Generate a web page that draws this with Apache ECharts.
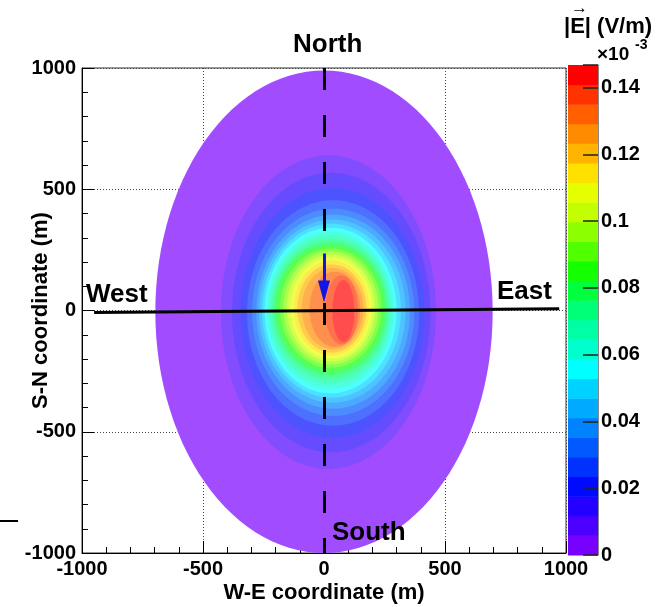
<!DOCTYPE html>
<html>
<head>
<meta charset="utf-8">
<script src="https://cdn.jsdelivr.net/npm/echarts@6/dist/echarts.min.js"></script>
<style>
  html, body { margin: 0; padding: 0; background: #fff; }
  #main { width: 662px; height: 607px; }
</style>
</head>
<body>
<div id="main"></div>
<script>
// colour scale of |E| (x 1e-3 V/m), 25 bands from 0 to zMax
var zMax = 0.1468;
var bandCount = 25;
var paletteTicks = [0, 0.02, 0.04, 0.06, 0.08, 0.1, 0.12, 0.14];
var bandColors = ['#7800ff', '#4b00ff', '#2300ff', '#000aff', '#0032ff', '#005aff', '#0082ff', '#00aaff',
  '#00d2ff', '#00ffff', '#00ffcd', '#00ffa5', '#00ff78', '#00ff3c', '#14ff00', '#50ff00', '#8cff00',
  '#c3ff00', '#e6ff00', '#ffe100', '#ffb400', '#ff8c00', '#ff5f00', '#ff3300', '#ff0000'];

// contour boundaries (m), one entry per level, outermost first
var contourLevel  = [0, 1, 2, 3, 4, 5, 6, 7, 8, 9, 10, 11, 12, 13, 14, 15, 16, 17, 18, 19, 20, 21, 22, 23, 24];
var contourLeft   = [-697, -426, -380, -345, -318, -297, -280, -268, -256, -245, -235, -225, -215, -205, -195, -181, -167, -153, -139, -124, -110, -92, -60, 5, 35];
var contourRight  = [697, 463, 440, 415, 393, 373, 355, 337, 318, 300, 288, 277, 268, 259, 250, 237, 224, 211, 199, 187, 175, 163, 150, 140, 125];
var contourTop    = [990, 640, 568, 505, 455, 420, 395, 375, 358, 342, 326, 310, 295, 281, 268, 256, 244, 231, 218, 206, 190, 175, 160, 145, 125];
var contourBottom = [-1000, -653, -585, -525, -475, -435, -405, -380, -360, -342, -322, -302, -284, -266, -250, -236, -223, -210, -198, -186, -173, -160, -150, -140, -130];

// reference lines
var westEast = [[-950, -8], [972, 7]];
var southNorth = [[0, 1000], [0, -1000]];
var arrowShaft = [[0, 235], [0, 70]];
var arrowHead = [[0, 78]];

var FONT = "'Liberation Sans', Arial, sans-serif";

function lighten(hex, a) {
  var n = parseInt(hex.slice(1), 16);
  var r = (n >> 16) & 255, g = (n >> 8) & 255, b = n & 255;
  function m(c) { return Math.round(c * a + 255 * (1 - a)); }
  return 'rgb(' + m(r) + ',' + m(g) + ',' + m(b) + ')';
}
var plotColors = bandColors.map(function (c) { return lighten(c, 0.7); });

var contourData = contourLevel.map(function (k, i) {
  return [k, contourLeft[i], contourRight[i], contourTop[i], contourBottom[i]];
});
var bandData = [];
for (var i = 0; i < bandCount; i++) {
  bandData.push([i, i * zMax / bandCount, (i + 1) * zMax / bandCount]);
}

var chart = echarts.init(document.getElementById('main'));

var axisFont = { fontFamily: FONT, fontWeight: 'bold', fontSize: 20, color: '#000' };
var nameFont = { fontFamily: FONT, fontWeight: 'bold', fontSize: 22, color: '#000' };
function plain(v) { return String(v); }

var option = {
  animation: false,
  grid: [
    { left: 82, top: 68, width: 484, height: 485, show: true, borderColor: '#333', borderWidth: 1,
      containLabel: false, outerBoundsMode: 'none' },
    { left: 568, top: 65, width: 30, height: 490, containLabel: false, outerBoundsMode: 'none' }
  ],
  xAxis: [{
    gridIndex: 0, type: 'value', min: -1000, max: 1000, interval: 500,
    name: 'W-E coordinate (m)', nameLocation: 'middle', nameGap: 29, nameMoveOverlap: false,
    nameTextStyle: nameFont,
    axisLine: { onZero: false, lineStyle: { color: '#000', width: 1 } },
    axisTick: { inside: true, length: 12, lineStyle: { color: '#000' } },
    minorTick: { show: true, splitNumber: 5, length: 6, lineStyle: { color: '#000' } },
    splitLine: { show: true, lineStyle: { color: '#444', type: [1, 2], width: 1 } },
    axisLabel: Object.assign({ margin: 6, formatter: plain }, axisFont)
  }, {
    gridIndex: 1, type: 'value', min: 0, max: 1, show: false, axisLine: { onZero: false }
  }],
  yAxis: [{
    gridIndex: 0, type: 'value', min: -1000, max: 1000, interval: 500,
    name: 'S-N coordinate (m)', nameLocation: 'middle', nameGap: 30, nameRotate: 90, nameMoveOverlap: false,
    nameTextStyle: nameFont,
    axisLine: { onZero: false, lineStyle: { color: '#000', width: 1 } },
    axisTick: { inside: true, length: 12, lineStyle: { color: '#000' } },
    minorTick: { show: true, splitNumber: 5, length: 6, lineStyle: { color: '#000' } },
    splitLine: { show: true, lineStyle: { color: '#444', type: [1, 2], width: 1 } },
    axisLabel: Object.assign({ margin: 6, formatter: plain }, axisFont)
  }, {
    gridIndex: 1, type: 'value', min: 0, max: zMax, interval: 0.02, position: 'right', z: 10,
    axisLine: { show: true, onZero: false, lineStyle: { color: '#888', width: 1 } },
    axisTick: { show: true, inside: true, length: 15, lineStyle: { color: '#222', width: 1.5 } },
    splitLine: { show: false },
    axisLabel: Object.assign({
      margin: 3,
      formatter: function (v) {
        for (var j = 0; j < paletteTicks.length; j++) {
          if (Math.abs(v - paletteTicks[j]) < 1e-6) return String(paletteTicks[j]);
        }
        return '';
      }
    }, axisFont)
  }],
  series: [{
    type: 'custom', xAxisIndex: 0, yAxisIndex: 0, clip: true, z: 1,
    data: contourData,
    encode: { x: [1, 2], y: [3, 4] },
    renderItem: function (params, api) {
      var k = api.value(0);
      var l = api.value(1), r = api.value(2), t = api.value(3), b = api.value(4);
      var cx = (l + r) / 2, cy = (t + b) / 2, ax = (r - l) / 2, ay = (t - b) / 2;
      var pts = [];
      for (var s = 0; s < 120; s++) {
        var a = s / 120 * Math.PI * 2;
        pts.push(api.coord([cx + ax * Math.cos(a), cy + ay * Math.sin(a)]));
      }
      return { type: 'polygon', shape: { points: pts }, style: { fill: plotColors[k] } };
    }
  }, {
    type: 'custom', xAxisIndex: 1, yAxisIndex: 1, z: 1,
    data: bandData,
    encode: { y: [1, 2] },
    renderItem: function (params, api) {
      var p0 = api.coord([0, api.value(2)]);
      var p1 = api.coord([1, api.value(1)]);
      return { type: 'rect', shape: { x: p0[0], y: p0[1], width: p1[0] - p0[0], height: p1[1] - p0[1] + 0.5 },
        style: { fill: bandColors[api.value(0)] } };
    }
  }, {
    type: 'lines', coordinateSystem: 'cartesian2d', xAxisIndex: 0, yAxisIndex: 0, z: 5,
    data: [{ coords: westEast }], symbol: 'none',
    lineStyle: { color: '#000', width: 3, opacity: 1 }
  }, {
    type: 'lines', coordinateSystem: 'cartesian2d', xAxisIndex: 0, yAxisIndex: 0, z: 5,
    data: [{ coords: southNorth }], symbol: 'none',
    lineStyle: { color: '#000', width: 3, opacity: 1, type: [22, 25] }
  }, {
    type: 'lines', coordinateSystem: 'cartesian2d', xAxisIndex: 0, yAxisIndex: 0, z: 6,
    data: [{ coords: arrowShaft }], symbol: 'none',
    lineStyle: { color: '#1414e6', width: 3, opacity: 1 }
  }, {
    type: 'scatter', xAxisIndex: 0, yAxisIndex: 0, z: 6,
    data: arrowHead, symbol: 'triangle', symbolRotate: 180, symbolSize: [12, 22],
    itemStyle: { color: '#1414e6', opacity: 1 }, silent: true
  }],
  graphic: [
    { type: 'text', z: 100, left: 293, top: 32, style: { text: 'North', font: 'bold 26px ' + FONT, fill: '#000' } },
    { type: 'text', z: 100, left: 332, top: 520, style: { text: 'South', font: 'bold 26px ' + FONT, fill: '#000' } },
    { type: 'text', z: 100, left: 86, top: 282, style: { text: 'West', font: 'bold 26px ' + FONT, fill: '#000' } },
    { type: 'text', z: 100, left: 497, top: 279, style: { text: 'East', font: 'bold 26px ' + FONT, fill: '#000' } },
    { type: 'text', z: 100, left: 564, top: 16, style: { text: '|E| (V/m)', font: 'bold 22px ' + FONT, fill: '#000' } },
    { type: 'text', z: 100, left: 571, top: 0, style: { text: '\u2192', font: 'bold 17px ' + FONT, fill: '#000' } },
    { type: 'text', z: 100, left: 597, top: 45, style: { text: '\u00d710', font: 'bold 19px ' + FONT, fill: '#000' } },
    { type: 'text', z: 100, left: 635, top: 38, style: { text: '-3', font: 'bold 14px ' + FONT, fill: '#000' } },
    { type: 'line', z: 100, shape: { x1: 0, y1: 521, x2: 18, y2: 521 }, style: { stroke: '#000', lineWidth: 2 } }
  ]
};
chart.setOption(option);
</script>
</body>
</html>
